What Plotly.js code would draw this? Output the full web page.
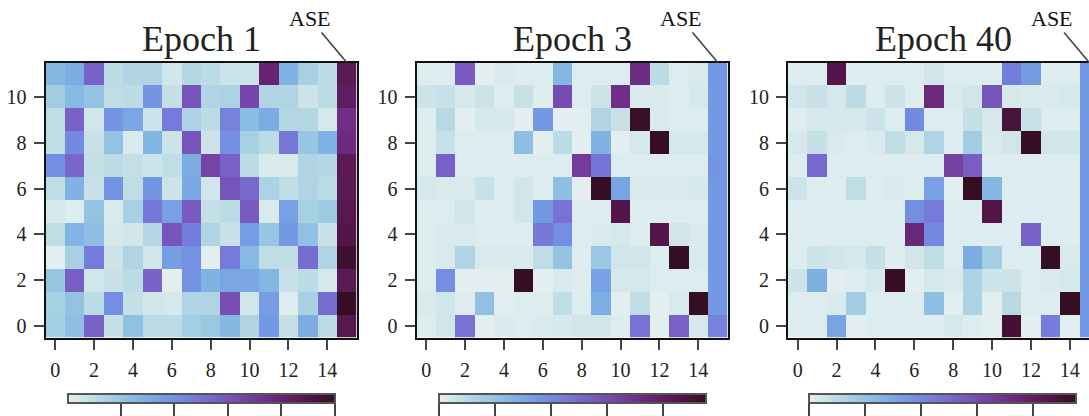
<!DOCTYPE html>
<html>
<head>
<meta charset="utf-8">
<script src="https://cdn.plot.ly/plotly-3.0.1.min.js"></script>
<style>
  html, body { margin: 0; padding: 0; overflow: hidden; background: #fff; }
  #chart { width: 1100px; height: 460px; }
</style>
</head>
<body>
<div id="chart"></div>
<script>
// Columns 0..14 are tokens, column 15 is the ASE column
const cols = [0,1,2,3,4,5,6,7,8,9,10,11,12,13,14,15];
const rows = [0,1,2,3,4,5,6,7,8,9,10,11];
const xTicks = [0,2,4,6,8,10,12,14];
const yTicks = [0,2,4,6,8,10];
const titles = ["Epoch 1", "Epoch 3", "Epoch 40"];
const aseLabel = "ASE";

// Rows listed top (y=11) to bottom (y=0)
const epoch1 = [
  [0.26,0.30,0.55,0.10,0.13,0.13,0.05,0.12,0.10,0.06,0.06,0.80,0.28,0.15,0.10,0.87],
  [0.17,0.25,0.21,0.09,0.10,0.38,0.08,0.60,0.13,0.14,0.65,0.13,0.13,0.06,0.10,0.84],
  [0.09,0.56,0.05,0.38,0.32,0.06,0.47,0.14,0.10,0.44,0.24,0.30,0.12,0.12,0.04,0.74],
  [0.09,0.42,0.07,0.21,0.03,0.27,0.06,0.60,0.06,0.40,0.15,0.10,0.48,0.20,0.28,0.76],
  [0.40,0.54,0.08,0.10,0.08,0.06,0.09,0.30,0.66,0.56,0.10,0.03,0.03,0.13,0.12,0.86],
  [0.09,0.28,0.07,0.39,0.09,0.38,0.06,0.31,0.05,0.60,0.53,0.14,0.09,0.13,0.10,0.87],
  [0.04,0.02,0.21,0.03,0.15,0.48,0.34,0.58,0.08,0.10,0.58,0.03,0.34,0.15,0.18,0.88],
  [0.09,0.27,0.23,0.04,0.05,0.12,0.60,0.46,0.13,0.07,0.35,0.20,0.37,0.22,0.07,0.89],
  [0.01,0.15,0.47,0.06,0.13,0.05,0.35,0.39,0.01,0.47,0.25,0.09,0.09,0.52,0.13,0.97],
  [0.20,0.57,0.05,0.07,0.10,0.55,0.01,0.39,0.28,0.32,0.32,0.26,0.07,0.10,0.04,0.87],
  [0.15,0.21,0.10,0.40,0.08,0.05,0.04,0.13,0.13,0.62,0.05,0.35,0.02,0.15,0.52,1.00],
  [0.16,0.23,0.55,0.08,0.22,0.10,0.10,0.16,0.19,0.26,0.13,0.37,0.08,0.30,0.10,0.88]
];
const epoch3 = [
  [0.02,0.02,0.58,0.01,0.03,0.02,0.02,0.26,0.02,0.02,0.02,0.75,0.10,0.02,0.03,0.37],
  [0.06,0.07,0.04,0.06,0.02,0.07,0.02,0.63,0.02,0.06,0.74,0.03,0.03,0.02,0.04,0.37],
  [0.02,0.11,0.01,0.04,0.04,0.01,0.37,0.01,0.01,0.13,0.07,0.99,0.03,0.02,0.02,0.37],
  [0.02,0.07,0.02,0.02,0.02,0.23,0.01,0.10,0.01,0.28,0.01,0.04,1.00,0.04,0.04,0.37],
  [0.02,0.56,0.02,0.02,0.02,0.02,0.02,0.02,0.69,0.49,0.02,0.02,0.02,0.02,0.02,0.38],
  [0.04,0.03,0.03,0.07,0.02,0.05,0.02,0.23,0.01,1.00,0.33,0.03,0.03,0.03,0.04,0.37],
  [0.02,0.02,0.05,0.02,0.02,0.05,0.37,0.50,0.02,0.02,0.89,0.02,0.02,0.02,0.02,0.37],
  [0.02,0.03,0.03,0.02,0.02,0.02,0.48,0.40,0.02,0.03,0.04,0.02,0.89,0.05,0.03,0.37],
  [0.02,0.03,0.13,0.03,0.03,0.03,0.09,0.21,0.02,0.19,0.05,0.05,0.02,1.00,0.03,0.37],
  [0.02,0.40,0.01,0.01,0.01,1.00,0.01,0.03,0.02,0.34,0.04,0.04,0.02,0.02,0.02,0.37],
  [0.03,0.05,0.02,0.22,0.01,0.02,0.02,0.09,0.02,0.29,0.01,0.09,0.01,0.03,1.00,0.37],
  [0.02,0.05,0.50,0.01,0.03,0.02,0.03,0.04,0.05,0.05,0.02,0.50,0.01,0.56,0.04,0.44]
];
const epoch40 = [
  [0.02,0.02,0.89,0.02,0.02,0.02,0.02,0.05,0.02,0.02,0.02,0.46,0.36,0.02,0.02,0.37],
  [0.05,0.07,0.04,0.10,0.02,0.06,0.02,0.77,0.03,0.05,0.60,0.04,0.03,0.03,0.04,0.37],
  [0.02,0.04,0.04,0.04,0.06,0.02,0.42,0.02,0.02,0.08,0.04,0.93,0.07,0.02,0.02,0.37],
  [0.04,0.08,0.03,0.02,0.03,0.09,0.04,0.13,0.02,0.17,0.03,0.05,1.00,0.05,0.05,0.37],
  [0.02,0.53,0.02,0.02,0.02,0.02,0.02,0.02,0.67,0.57,0.02,0.02,0.02,0.02,0.02,0.37],
  [0.06,0.02,0.02,0.09,0.02,0.03,0.02,0.34,0.01,1.00,0.26,0.02,0.02,0.02,0.02,0.37],
  [0.02,0.02,0.02,0.02,0.02,0.02,0.40,0.47,0.02,0.02,0.90,0.02,0.02,0.02,0.02,0.37],
  [0.02,0.02,0.02,0.02,0.02,0.02,0.78,0.42,0.02,0.02,0.02,0.02,0.55,0.02,0.02,0.37],
  [0.02,0.06,0.05,0.04,0.08,0.02,0.05,0.09,0.02,0.30,0.16,0.02,0.02,1.00,0.03,0.37],
  [0.06,0.29,0.01,0.02,0.04,1.00,0.01,0.04,0.03,0.14,0.06,0.06,0.02,0.03,0.04,0.37],
  [0.02,0.02,0.03,0.17,0.02,0.02,0.02,0.23,0.01,0.14,0.01,0.11,0.02,0.02,1.00,0.37],
  [0.02,0.02,0.33,0.01,0.02,0.02,0.02,0.02,0.04,0.02,0.01,0.95,0.01,0.46,0.01,0.37]
];
const cbTicks1 = [0.2,0.4,0.6,0.8,1.0];
const cbTicks23 = [0,0.21,0.42,0.63,0.84];

const denseColors = ['rgb(230,240,240)','rgb(191,221,229)','rgb(156,201,226)','rgb(129,180,227)',
  'rgb(115,154,228)','rgb(117,127,221)','rgb(120,100,202)','rgb(119,74,175)','rgb(113,50,141)',
  'rgb(100,31,104)','rgb(80,20,66)','rgb(54,14,36)'];
const colorscale = denseColors.map((c,i)=>[i/(denseColors.length-1), c]);

const W = 1100, H = 460;
const serif = 'Liberation Serif, Times New Roman, serif';
const panels = [
  {z: epoch1, x0: 45.5, ticks: cbTicks1, cbx: 67.5},
  {z: epoch3, x0: 416.5, ticks: cbTicks23, cbx: 438.5},
  {z: epoch40, x0: 788, ticks: cbTicks23, cbx: 808.5}
];
const pw = 311, plotTop = 62.5, plotBottom = 337.5;

const data = [];
const layout = {
  width: W, height: H,
  margin: {l:0, r:0, t:0, b:0},
  paper_bgcolor: '#fff', plot_bgcolor: '#fff',
  showlegend: false,
  annotations: []
};

panels.forEach((p, i) => {
  const sfx = i === 0 ? '' : String(i+1);
  data.push({
    type: 'heatmap',
    z: p.z.slice().reverse(),
    x: cols, y: rows,
    xaxis: 'x' + sfx, yaxis: 'y' + sfx,
    colorscale: colorscale, zmin: 0, zmax: 1,
    hoverinfo: 'z',
    colorbar: {
      orientation: 'h',
      x: p.cbx / W, xanchor: 'left',
      y: 1 - 394/H, yanchor: 'top',
      len: 267, lenmode: 'pixels',
      thickness: 9, thicknessmode: 'pixels',
      xpad: 0, ypad: 0,
      outlinewidth: 2, outlinecolor: '#555',
      ticks: 'outside', ticklen: 16, tickwidth: 2, tickcolor: '#444',
      tickvals: p.ticks, showticklabels: false
    }
  });
  const axCommon = {
    showline: true, mirror: true, linecolor: '#111', linewidth: 2,
    ticks: 'outside', ticklen: 10, tickwidth: 2, tickcolor: '#444',
    showgrid: false, zeroline: false,
    tickfont: {family: serif, size: 20, color: '#222'}
  };
  layout['xaxis' + sfx] = Object.assign({}, axCommon, {
    domain: [p.x0 / W, Math.min(1, (p.x0 + pw) / W)],
    range: [-0.5, 15.5], tickvals: xTicks, anchor: 'y' + sfx,
    ticklabelstandoff: 3
  });
  layout['yaxis' + sfx] = Object.assign({}, axCommon, {
    domain: [1 - plotBottom / H, 1 - plotTop / H],
    range: [-0.5, 11.5], tickvals: yTicks, anchor: 'x' + sfx,
    ticklabelstandoff: 3
  });
  layout.annotations.push({
    text: titles[i], xref: 'paper', yref: 'paper',
    x: (p.x0 + pw/2) / W, y: 1 - 61/H, xanchor: 'center', yanchor: 'bottom',
    showarrow: false, font: {family: serif, size: 36, color: '#222'}
  });
  layout.annotations.push({
    text: aseLabel, xref: 'x' + sfx, yref: 'y' + sfx,
    x: 15, y: 11.5, ax: -37, ay: -44,
    showarrow: true, arrowhead: 0, arrowwidth: 1.6, arrowcolor: '#444',
    font: {family: serif, size: 22, color: '#111'}
  });
});

Plotly.newPlot('chart', data, layout, {displayModeBar: false, staticPlot: true});
</script>
</body>
</html>
